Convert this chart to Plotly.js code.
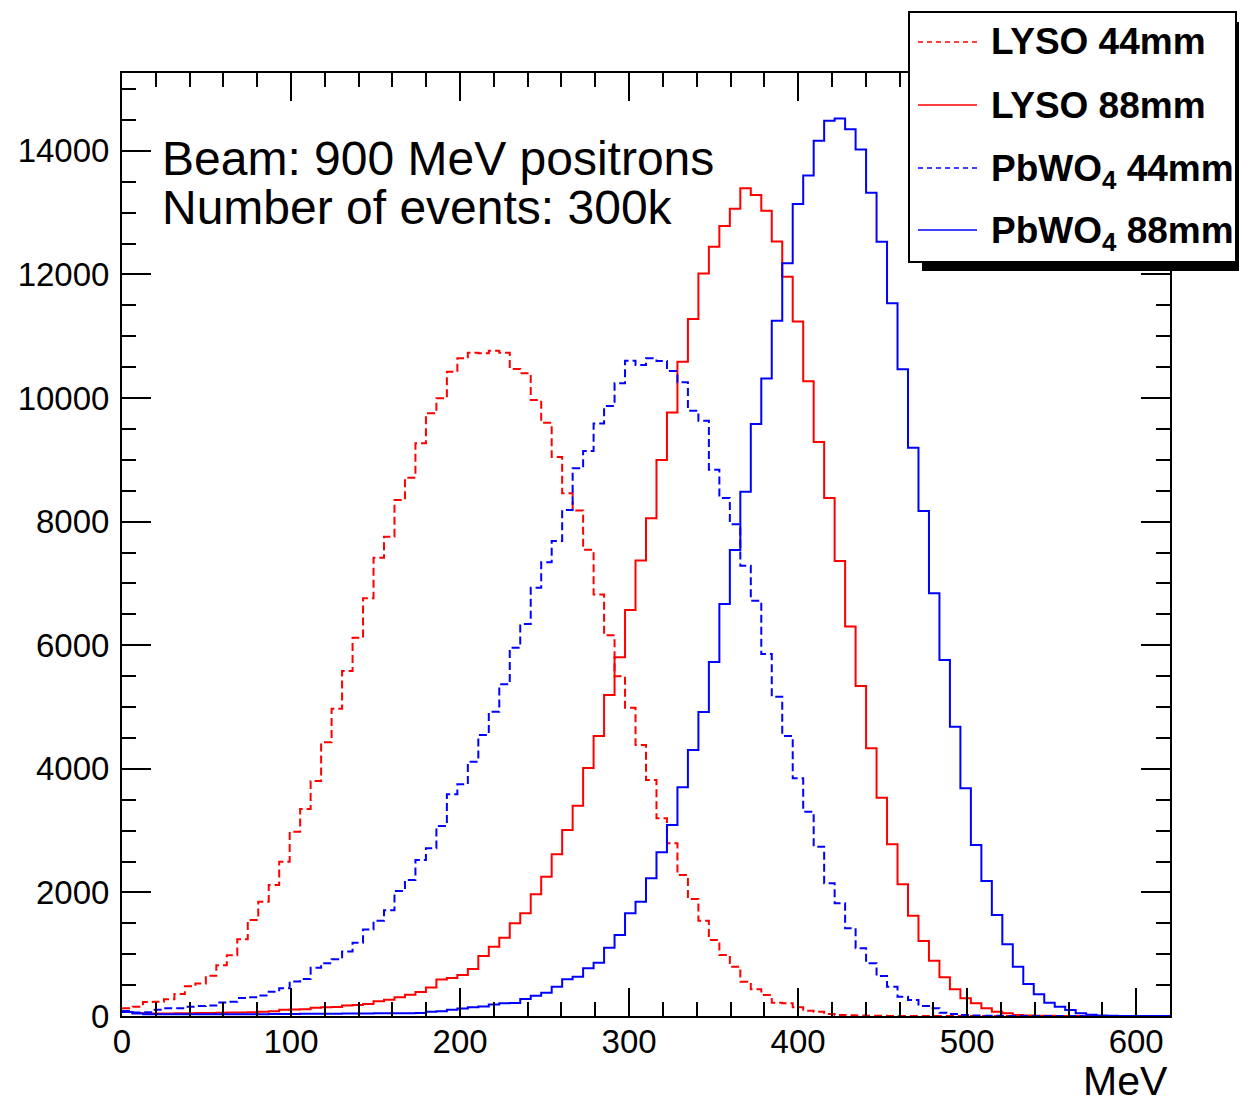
<!DOCTYPE html>
<html>
<head>
<meta charset="utf-8">
<script src="https://cdn.plot.ly/plotly-3.0.1.min.js"></script>
<style>
  html, body { margin: 0; padding: 0; background: #ffffff; }
  #chart { width: 1239px; height: 1106px; }
</style>
</head>
<body>
<div id="chart"></div>
<script>
// ---- Histogram binning (100 bins from 0 to 620 MeV) ----
const xMin = 0;
const xMax = 620;
const nBins = 100;

// ---- Series (counts per bin) ----
const lyso44 = [
  124, 150, 225, 230, 270, 356, 480, 525, 650, 820,
  985, 1240, 1553, 1850, 2120, 2497, 2983, 3350, 3803, 4429,
  4973, 5583, 6122, 6760, 7416, 7756, 8350, 8711, 9267, 9752,
  9995, 10426, 10642, 10733, 10723, 10766, 10733, 10469, 10400, 9968,
  9601, 9045, 8458, 8180, 7545, 6820, 6160, 5497, 4987, 4385,
  3819, 3199, 2794, 2282, 1893, 1542, 1230, 987, 798, 555,
  432, 340, 216, 205, 140, 86, 70, 32, 18, 12,
  8, 5, 3, 2, 1, 0, 0, 0, 0, 0,
  0, 0, 0, 0, 0, 0, 0, 0, 0, 0,
  0, 0, 0, 0, 0, 0, 0, 0, 0, 0
];
const lyso88 = [
  65, 50, 42, 40, 42, 45, 45, 48, 50, 52,
  55, 58, 62, 68, 75, 100, 105, 110, 135, 140,
  145, 170, 180, 195, 240, 262, 305, 345, 388, 462,
  590, 615, 663, 760, 971, 1122, 1267, 1500, 1662, 1969,
  2254, 2616, 3010, 3403, 4013, 4531, 5194, 5804, 6570, 7370,
  8053, 8997, 9765, 10588, 11278, 12017, 12449, 12783, 13063, 13393,
  13285, 13031, 12535, 11963, 11240, 10270, 9288, 8382, 7362, 6305,
  5342, 4332, 3533, 2778, 2131, 1623, 1214, 895, 626, 432,
  286, 205, 124, 70, 43, 16, 10, 5, 3, 2,
  0, 0, 0, 0, 0, 0, 0, 0, 0, 0
];
const pbwo44 = [
  80, 55, 60, 100, 124, 124, 150, 162, 170, 220,
  232, 290, 302, 330, 394, 450, 560, 600, 782, 852,
  917, 1045, 1186, 1400, 1543, 1710, 2022, 2201, 2524, 2713,
  3074, 3587, 3749, 4115, 4547, 4924, 5367, 5960, 6343, 6931,
  7341, 7686, 8188, 8862, 9145, 9590, 9871, 10238, 10604, 10534,
  10642, 10598, 10437, 10254, 9795, 9633, 8840, 8382, 7956, 7287,
  6720, 5858, 5167, 4531, 3846, 3306, 2740, 2147, 1823, 1419,
  1095, 852, 647, 475, 313, 259, 162, 124, 54, 32,
  16, 10, 6, 4, 2, 0, 0, 0, 0, 0,
  0, 0, 0, 0, 0, 0, 0, 0, 0, 0
];
const pbwo88 = [
  65, 40, 30, 28, 28, 27, 27, 27, 28, 28,
  28, 30, 30, 30, 32, 32, 33, 35, 35, 38,
  38, 40, 40, 42, 43, 43, 45, 45, 50, 70,
  75, 100, 120, 140, 155, 185, 205, 210, 275, 329,
  378, 475, 593, 636, 771, 863, 1106, 1311, 1662, 1850,
  2228, 2649, 3091, 3700, 4304, 4920, 5728, 6667, 7540, 8484,
  9579, 10318, 11251, 12180, 13139, 13600, 14164, 14487, 14525, 14348,
  14024, 13323, 12530, 11532, 10464, 9196, 8172, 6840, 5761, 4682,
  3684, 2767, 2184, 1634, 1160, 798, 518, 351, 216, 151,
  97, 43, 22, 10, 5, 2, 0, 0, 0, 0
];

const seriesNames = ["LYSO 44mm", "LYSO 88mm", "PbWO<sub>4</sub> 44mm", "PbWO<sub>4</sub> 88mm"];
const seriesData = [lyso44, lyso88, pbwo44, pbwo88];
const seriesColors = ["#ff0000", "#ff0000", "#0000ff", "#0000ff"];
const seriesDash = ["8px,4px", "solid", "8px,4px", "solid"];

const xTickVals = [0, 100, 200, 300, 400, 500, 600];
const yTickVals = [0, 2000, 4000, 6000, 8000, 10000, 12000, 14000];

const infoLines = ["Beam: 900 MeV positrons", "Number of events: 300k"];
const xTitle = "MeV";

// ---- Build step-histogram traces from the bin contents ----
const binW = (xMax - xMin) / nBins;
const edges = [];
for (let i = 0; i <= nBins; i++) edges.push(xMin + i * binW);

const traces = seriesData.map((vals, k) => ({
  type: "scatter",
  mode: "lines",
  x: edges,
  y: vals.concat([vals[vals.length - 1]]),
  line: { shape: "hv", color: seriesColors[k], width: 2, dash: seriesDash[k] },
  name: seriesNames[k],
  showlegend: false,
  hoverinfo: "skip"
}));

// ---- Geometry helpers (plot area in pixels) ----
const W = 1239, H = 1106;
const L = 122, R = 1170, T = 73, B = 1016;
const px = (x) => (x - L) / (R - L);
const py = (y) => (B - y) / (B - T);

const FONT = "Liberation Sans, Arial, Helvetica, sans-serif";

// Legend box (drawn manually, ROOT style with shadow)
const shapes = [
  { type: "rect", xref: "paper", yref: "paper", layer: "above",
    x0: px(922), x1: px(1250), y0: py(271), y1: py(22),
    fillcolor: "#000000", line: { width: 0 } },
  { type: "rect", xref: "paper", yref: "paper", layer: "above",
    x0: px(909), x1: px(1236), y0: py(262), y1: py(12),
    fillcolor: "#ffffff", line: { color: "#000000", width: 2 } }
];
const legendRowsY = [42, 105, 168, 230];
const legendTextShift = [0, 0, 3, 3];
const annotations = [];
seriesNames.forEach((nm, k) => {
  shapes.push({ type: "line", xref: "paper", yref: "paper", layer: "above",
    x0: px(918), x1: px(977), y0: py(legendRowsY[k]), y1: py(legendRowsY[k]),
    line: { color: seriesColors[k], width: 1.5, dash: seriesDash[k] === "solid" ? "solid" : "5px,4px" } });
  annotations.push({ xref: "paper", yref: "paper", x: px(989), y: py(legendRowsY[k] + legendTextShift[k]),
    xanchor: "left", yanchor: "middle", showarrow: false, text: "<b>" + nm + "</b>",
    font: { family: FONT, size: 37, color: "#000000" } });
});

infoLines.forEach((t, i) => {
  annotations.push({ xref: "paper", yref: "paper", x: px(160), y: py(158 + i * 50),
    xanchor: "left", yanchor: "middle", showarrow: false, text: t,
    font: { family: FONT, size: 48, color: "#000000" } });
});

annotations.push({ xref: "paper", yref: "paper", x: 1, y: py(1081),
  xanchor: "right", yanchor: "middle", showarrow: false, text: xTitle,
  font: { family: FONT, size: 41, color: "#000000" } });

const axisCommon = {
  showgrid: false,
  zeroline: false,
  showline: true,
  linecolor: "#000000",
  linewidth: 2,
  mirror: "allticks",
  ticks: "inside",
  tickcolor: "#000000",
  tickwidth: 2,
  tickfont: { family: FONT, size: 33, color: "#000000" },
  tickmode: "array"
};

const layout = {
  width: W,
  height: H,
  margin: { l: L, r: W - R, t: T, b: H - B, pad: 0 },
  paper_bgcolor: "#ffffff",
  plot_bgcolor: "#ffffff",
  showlegend: false,
  xaxis: Object.assign({}, axisCommon, {
    range: [xMin, xMax],
    tickvals: xTickVals,
    ticktext: xTickVals.map(String),
    ticklen: 28,
    ticklabelstandoff: -5,
    minor: { ticks: "inside", dtick: 20, tick0: 0, ticklen: 14, tickwidth: 2, tickcolor: "#000000", showgrid: false }
  }),
  yaxis: Object.assign({}, axisCommon, {
    range: [0, 15260],
    tickvals: yTickVals,
    ticktext: yTickVals.map(String),
    ticklen: 29,
    ticklabelstandoff: 4,
    minor: { ticks: "inside", dtick: 500, tick0: 0, ticklen: 14, tickwidth: 2, tickcolor: "#000000", showgrid: false }
  }),
  shapes: shapes,
  annotations: annotations
};

Plotly.newPlot("chart", traces, layout, { staticPlot: true, displayModeBar: false });
</script>
</body>
</html>
